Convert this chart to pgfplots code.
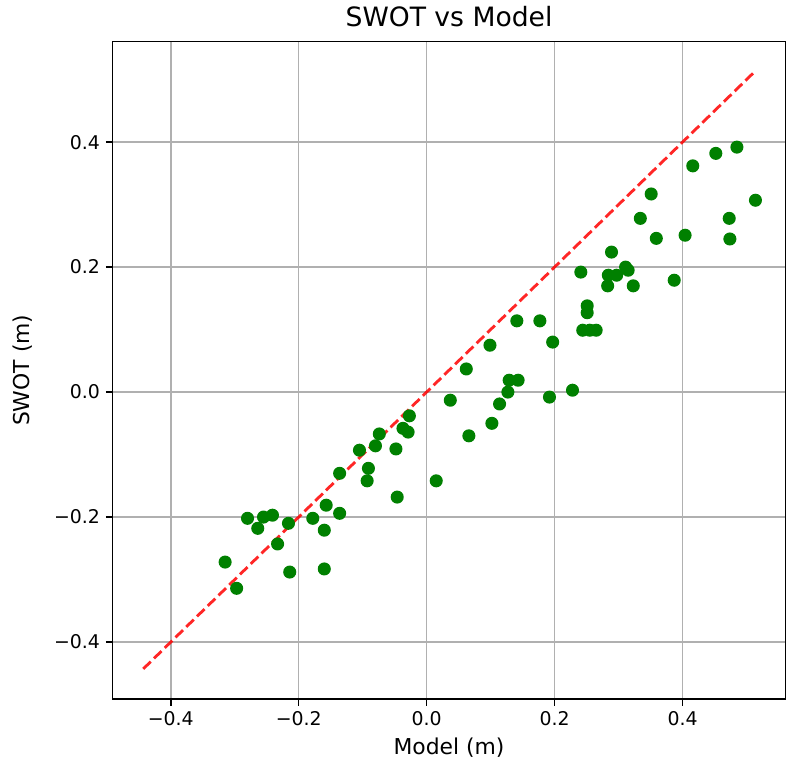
\documentclass[border=0pt]{standalone}
\usepackage{pgfplots}
\pgfplotsset{compat=1.18}
\usepackage{fontspec}
\setmainfont{DejaVu Sans}
\definecolor{mplgreen}{RGB}{0,128,0}
\definecolor{gridgray}{RGB}{176,176,176}
\begin{document}
\begin{tikzpicture}
\begin{axis}[
  scale only axis,
  width=397.1pt, height=387.9pt,
  xmin=-0.491, xmax=0.561,
  ymin=-0.491, ymax=0.561,
  xtick={-0.4,-0.2,0,0.2,0.4},
  ytick={-0.4,-0.2,0,0.2,0.4},
  xticklabels={−0.4,−0.2,0.0,0.2,0.4},
  yticklabels={−0.4,−0.2,0.0,0.2,0.4},
  tick align=outside,
  tick pos=left,
  major tick length=3.9pt,
  every tick/.style={black, line width=0.89pt},
  axis line style={line width=0.89pt},
  grid=major,
  major grid style={gridgray, line width=0.89pt},
  tick label style={font=\fontsize{11.15}{13}\selectfont},
  label style={font=\fontsize{12.9}{15}\selectfont},
  title style={font=\fontsize{15.7}{18}\selectfont, yshift=-1pt},
  title={SWOT vs Model},
  xlabel={Model (m)},
  ylabel={SWOT (m)},
  ylabel shift=6pt,
  clip=false,
]
\addplot[red, line width=1.67pt, dash pattern=on 6.2pt off 2.67pt, opacity=0.85] coordinates {(-0.443,-0.443) (0.513,0.513)};
\addplot[only marks, mark=*, mark size=3.4pt, color=mplgreen, mark options={line width=0.89pt}] table {
x y
-0.315 -0.272
-0.297 -0.314
-0.280 -0.202
-0.264 -0.218
-0.255 -0.200
-0.241 -0.197
-0.233 -0.243
-0.216 -0.210
-0.214 -0.288
-0.178 -0.202
-0.160 -0.221
-0.157 -0.181
-0.160 -0.283
-0.136 -0.130
-0.136 -0.194
-0.105 -0.093
-0.091 -0.122
-0.093 -0.142
-0.080 -0.086
-0.074 -0.067
-0.048 -0.091
-0.046 -0.168
-0.037 -0.058
-0.029 -0.064
-0.027 -0.038
0.015 -0.142
0.037 -0.013
0.062 0.037
0.066 -0.070
0.099 0.075
0.102 -0.050
0.114 -0.019
0.127 0.000
0.129 0.019
0.143 0.019
0.141 0.114
0.177 0.114
0.192 -0.008
0.197 0.080
0.228 0.003
0.241 0.192
0.244 0.099
0.251 0.138
0.251 0.127
0.255 0.099
0.265 0.099
0.283 0.170
0.284 0.187
0.289 0.224
0.297 0.187
0.311 0.200
0.315 0.195
0.323 0.170
0.334 0.278
0.351 0.317
0.359 0.246
0.387 0.179
0.404 0.251
0.416 0.362
0.452 0.382
0.473 0.278
0.474 0.245
0.485 0.392
0.514 0.307
};
\end{axis}
\pgfresetboundingbox
\useasboundingbox (-66.4pt,-42.5pt) rectangle (402.1pt,412.4pt);
\end{tikzpicture}
\end{document}
